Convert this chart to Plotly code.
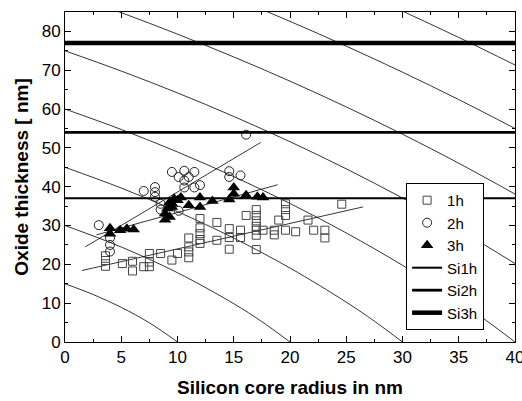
import plotly.graph_objects as go

x_1h = [3.6, 3.6, 3.6, 5.1, 6.0, 6.0, 7.0, 7.5, 7.5, 7.5, 8.5, 9.5, 10.0, 11.0, 11.0, 11.0, 11.0,
        12.0, 12.0, 12.0, 12.0, 12.0, 13.5, 13.5, 14.6, 14.6, 14.6, 15.6, 15.6, 16.1, 17.0, 17.0,
        17.0, 17.0, 17.0, 17.0, 17.0, 17.6, 18.6, 18.6, 19.0, 19.6, 19.6, 19.6, 19.6, 20.5, 21.6,
        22.1, 23.1, 23.1, 24.6]
y_1h = [19.5, 21.0, 22.2, 20.2, 20.8, 18.3, 19.4, 19.4, 20.6, 22.8, 22.8, 21.1, 22.8, 21.7, 23.2, 24.5, 26.8,
        25.4, 26.4, 27.9, 29.4, 31.8, 30.8, 26.2, 23.9, 26.9, 29.2, 26.9, 28.8, 32.6, 23.8, 27.5,
        28.8, 29.8, 31.2, 32.6, 34.1, 28.8, 27.6, 28.8, 31.4, 28.8, 32.6, 34.1, 35.6, 28.4, 31.4,
        28.8, 26.8, 28.8, 35.5]

x_2h = [3.0, 4.0, 4.0, 4.0, 7.0, 8.0, 8.0, 8.0, 8.5, 8.5, 9.5, 10.1, 10.1, 10.6, 10.6, 10.6,
        11.0, 11.5, 11.5, 12.0, 14.6, 14.6, 15.6, 16.1]
y_2h = [30.1, 23.3, 25.0, 26.8, 38.9, 37.4, 38.6, 39.9, 34.1, 35.6, 43.8, 42.5, 33.8, 44.1, 41.6, 39.8,
        42.5, 43.8, 39.8, 40.4, 44.0, 42.5, 42.9, 53.4]

x_3h = [4.0, 4.0, 4.9, 5.5, 6.1, 8.9, 8.9, 9.1, 9.3, 9.5, 9.5, 9.7, 10.0, 10.3, 9.3, 11.0,
        12.0, 12.0, 13.1, 14.6, 15.0, 15.0, 16.1, 17.1, 17.6]
y_3h = [27.9, 29.3, 28.8, 29.2, 29.0, 31.5, 33.1, 34.4, 32.2, 35.7, 34.8, 36.9, 36.5, 37.2, 36.0, 35.2,
        34.8, 37.2, 36.3, 36.7, 38.2, 39.8, 37.8, 37.4, 37.2]

# ---- fitted trend lines (end points) ----
fit_1h_x = [1.5, 26.5]
fit_1h_y = [18.4, 34.8]
fit_2h_x = [1.8, 17.4]
fit_2h_y = [24.5, 51.4]
fit_3h_x = [2.8, 18.9]
fit_3h_y = [27.6, 40.5]

# ---- horizontal reference levels ----
level_x = [0, 40]
si1h_y = [37, 37]
si2h_y = [54, 54]
si3h_y = [77, 77]

# ---- background oxidation curves ----
c10_x = [0, 2.5, 5, 7.5, 10]
c10_y = [15, 12.24, 8.92, 4.94, 0]
c20_x = [0, 5, 10, 15, 17.5, 20]
c20_y = [30, 24.47, 17.84, 9.87, 5.24, 0]
c30_x = [0, 5, 10, 15, 20, 25, 27.5, 30]
c30_y = [45, 39.65, 33.59, 26.76, 19.05, 10.27, 5.36, 0]
c40_x = [0, 5, 10, 15, 20, 25, 30, 35, 37.5, 40]
c40_y = [60, 54.74, 48.95, 42.61, 35.68, 28.09, 19.75, 10.48, 5.42, 0]
c50_x = [0, 5, 10, 15, 20, 25, 30, 35, 40]
c50_y = [75, 69.79, 64.16, 58.10, 51.59, 44.60, 37.08, 28.98, 20.21]
c60_x = [0, 5, 10, 15, 20, 25, 30, 35, 40]
c60_y = [90, 84.83, 79.30, 73.42, 67.18, 60.55, 53.52, 46.05, 38.10]
c70_x = [15, 20, 25, 30, 35, 40]
c70_y = [88.65, 82.59, 76.21, 69.50, 62.44, 55.0]
c80_x = [25, 30, 35, 40]
c80_y = [91.70, 85.22, 78.44, 71.36]

curves = [(c10_x, c10_y), (c20_x, c20_y), (c30_x, c30_y), (c40_x, c40_y),
          (c50_x, c50_y), (c60_x, c60_y), (c70_x, c70_y), (c80_x, c80_y)]

FONT = "Liberation Sans, Arial, sans-serif"

fig = go.Figure()

for cx, cy in curves:
    fig.add_trace(go.Scatter(x=cx, y=cy, mode="lines", line=dict(color="black", width=0.8, shape="spline"),
                             showlegend=False, hoverinfo="skip"))

for fx, fy in [(fit_1h_x, fit_1h_y), (fit_2h_x, fit_2h_y), (fit_3h_x, fit_3h_y)]:
    fig.add_trace(go.Scatter(x=fx, y=fy, mode="lines", line=dict(color="black", width=0.8),
                             showlegend=False, hoverinfo="skip"))

fig.add_trace(go.Scatter(x=x_1h, y=y_1h, mode="markers", name="1h",
                         marker=dict(symbol="square-open", size=8, color="#444444", line=dict(width=1))))
fig.add_trace(go.Scatter(x=x_2h, y=y_2h, mode="markers", name="2h",
                         marker=dict(symbol="circle-open", size=9, color="#222222", line=dict(width=1))))
fig.add_trace(go.Scatter(x=x_3h, y=y_3h, mode="markers", name="3h",
                         marker=dict(symbol="triangle-up", size=11, color="black")))

fig.add_trace(go.Scatter(x=level_x, y=si1h_y, mode="lines", name="Si1h", line=dict(color="black", width=2)))
fig.add_trace(go.Scatter(x=level_x, y=si2h_y, mode="lines", name="Si2h", line=dict(color="black", width=2.8)))
fig.add_trace(go.Scatter(x=level_x, y=si3h_y, mode="lines", name="Si3h", line=dict(color="black", width=4.5)))

axis_common = dict(showline=True, linecolor="black", linewidth=1, mirror="allticks", ticks="inside",
                   ticklen=6, tickwidth=1, tickcolor="black", showgrid=False, zeroline=False,
                   ticklabeloverflow="allow", automargin=False,
                   tickfont=dict(family=FONT, size=17, color="black"))

fig.update_xaxes(range=[0, 40], dtick=5, tick0=0,
                 minor=dict(ticks="inside", ticklen=3, dtick=2.5, tickcolor="black", showgrid=False),
                 title=dict(text="<b>Silicon core radius in nm</b>", font=dict(family=FONT, size=19, color="black"),
                            standoff=14),
                 **axis_common)
fig.update_yaxes(range=[0, 85], dtick=10, tick0=0,
                 minor=dict(ticks="inside", ticklen=3, dtick=5, tickcolor="black", showgrid=False),
                 title=dict(text="<b>Oxide thickness [ nm]</b>", font=dict(family=FONT, size=19, color="black"),
                            standoff=8),
                 **axis_common)

fig.update_layout(
    width=522, height=401,
    margin=dict(l=65, r=7, t=12, b=59, autoexpand=False),
    paper_bgcolor="white", plot_bgcolor="white",
    font=dict(family=FONT, size=17, color="black"),
    legend=dict(x=0.758, y=0.482, xanchor="left", yanchor="top", bgcolor="white",
                bordercolor="black", borderwidth=1, font=dict(family=FONT, size=15, color="black"),
                tracegroupgap=0, itemwidth=30),
)

fig.write_html("out.html")
